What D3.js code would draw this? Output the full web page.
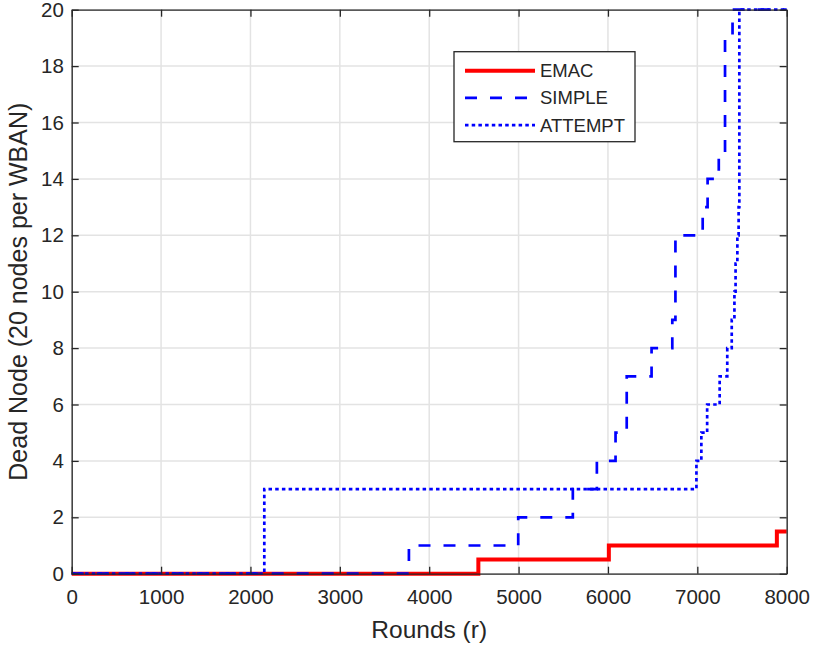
<!DOCTYPE html>
<html>
<head>
<meta charset="utf-8">
<script src="https://cdn.jsdelivr.net/npm/d3@7"></script>
<style>
  body { margin: 0; background: #fff; }
  text { font-family: "Liberation Sans", Arial, Helvetica, sans-serif; fill: #262626; }
</style>
</head>
<body>
<svg></svg>
<script>
let width = 816, height = 650;

let svg = d3.select("svg")
    .attr("width", width)
    .attr("height", height);

// Data: step points [round, dead nodes]
let emac = [[0, 0], [4550, 0.5], [6010, 1], [7890, 1.5], [8000, 1.5]];
let simple = [[0, 0], [3773, 1], [4996, 2], [5607, 3], [5876, 4], [6085, 5], [6210, 7],
    [6488, 8], [6720, 9], [6755, 12], [7060, 13], [7115, 14], [7240, 15], [7310, 19],
    [7394, 20], [8000, 20]];
let attempt = [[0, 0], [2155, 3], [6990, 4], [7045, 5], [7110, 6], [7250, 7], [7335, 8],
    [7385, 9], [7415, 10], [7428, 11], [7448, 12], [7462, 13], [7470, 20], [8000, 20]];

let xTicks = [0, 1000, 2000, 3000, 4000, 5000, 6000, 7000, 8000];
let yTicks = [0, 2, 4, 6, 8, 10, 12, 14, 16, 18, 20];
let seriesNames = ["EMAC", "SIMPLE", "ATTEMPT"];

let margin = { left: 71.7, right: 816 - 786.7, top: 9.7, bottom: 650 - 573.7 };
let x = d3.scaleLinear().domain([0, 8000]).range([margin.left, width - margin.right]);
let y = d3.scaleLinear().domain([0, 20]).range([height - margin.bottom, margin.top]);

// grid
svg.append("g").selectAll("line.gx")
    .data(xTicks)
    .enter().append("line")
    .attr("x1", d => x(d)).attr("x2", d => x(d))
    .attr("y1", y(0)).attr("y2", y(20))
    .attr("stroke", "#e3e3e3").attr("stroke-width", 1.5);
svg.append("g").selectAll("line.gy")
    .data(yTicks)
    .enter().append("line")
    .attr("y1", d => y(d)).attr("y2", d => y(d))
    .attr("x1", x(0)).attr("x2", x(8000))
    .attr("stroke", "#e3e3e3").attr("stroke-width", 1.5);

// lines
let line = d3.line().x(d => x(d[0])).y(d => y(d[1])).curve(d3.curveStepAfter);

let styles = [
    { data: emac, color: "#ff0000", w: 4, dash: null },
    { data: simple, color: "#0000ff", w: 2.7, dash: "12,13" },
    { data: attempt, color: "#0000ff", w: 2.7, dash: "3.5,3.2" }
];

svg.append("g").selectAll("path")
    .data(styles)
    .enter().append("path")
    .attr("d", d => line(d.data))
    .attr("fill", "none")
    .attr("stroke", d => d.color)
    .attr("stroke-width", d => d.w)
    .attr("stroke-dasharray", d => d.dash);

// axes
let axisColor = "#262626";
let xAxis = svg.append("g")
    .attr("transform", "translate(0," + y(0) + ")")
    .call(d3.axisBottom(x).tickValues(xTicks).tickFormat(d3.format("d")).tickSize(-7).tickPadding(16).tickSizeOuter(0));
let xTop = svg.append("g")
    .attr("transform", "translate(0," + y(20) + ")")
    .call(d3.axisTop(x).tickValues(xTicks).tickSize(-7).tickFormat("").tickSizeOuter(0));
let yAxis = svg.append("g")
    .attr("transform", "translate(" + x(0) + ",0)")
    .call(d3.axisLeft(y).tickValues(yTicks).tickSize(-7).tickPadding(16).tickSizeOuter(0));
let yRight = svg.append("g")
    .attr("transform", "translate(" + x(8000) + ",0)")
    .call(d3.axisRight(y).tickValues(yTicks).tickSize(-7).tickFormat("").tickSizeOuter(0));

[xAxis, xTop, yAxis, yRight].forEach(g => {
    g.selectAll("path.domain").attr("stroke", axisColor).attr("stroke-width", 1.3);
    g.selectAll(".tick line").attr("stroke", axisColor).attr("stroke-width", 1.3);
    g.selectAll(".tick text").style("font-size", "20.5px").attr("fill", axisColor)
        .style("font-family", "'Liberation Sans', Arial, sans-serif");
});
yAxis.selectAll(".tick text").attr("dx", "0.4em");

// axis labels
svg.append("text")
    .attr("x", (x(0) + x(8000)) / 2)
    .attr("y", 638)
    .attr("text-anchor", "middle")
    .style("font-size", "24.5px")
    .text("Rounds (r)");

svg.append("text")
    .attr("transform", "translate(27," + (y(0) + y(20)) / 2 + ") rotate(-90)")
    .attr("text-anchor", "middle")
    .style("font-size", "25px")
    .text("Dead Node (20 nodes per WBAN)");

// legend
let legend = svg.append("g").attr("id", "legend");
legend.append("rect")
    .attr("x", 454).attr("y", 51.7)
    .attr("width", 181).attr("height", 90)
    .attr("fill", "#fff")
    .attr("stroke", axisColor)
    .attr("stroke-width", 1.3);

let legenditem = legend.selectAll(".legenditem")
    .data(styles)
    .enter().append("g")
    .attr("class", "legenditem")
    .attr("transform", (d, i) => "translate(0," + (70.7 + i * 27.2) + ")");

legenditem.append("line")
    .attr("x1", 465).attr("x2", 535)
    .attr("stroke", d => d.color)
    .attr("stroke-width", d => d.w)
    .attr("stroke-dasharray", d => d.dash);

legenditem.append("text")
    .attr("x", 540)
    .attr("y", 6.5)
    .style("font-size", "18.5px")
    .attr("fill", "#000")
    .text((d, i) => seriesNames[i]);
</script>
</body>
</html>
